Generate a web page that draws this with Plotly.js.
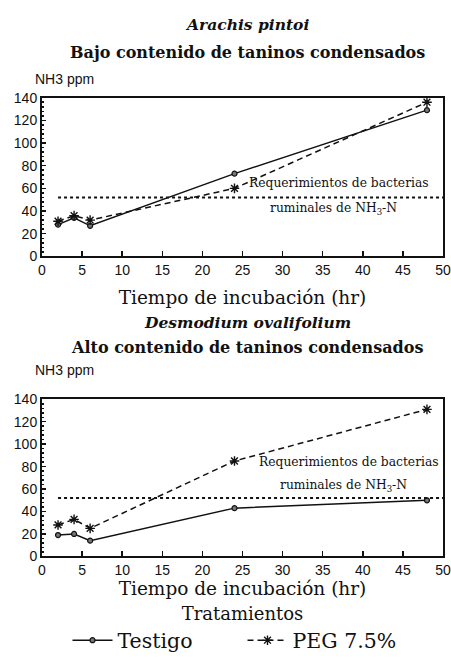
<!DOCTYPE html>
<html>
<head>
<meta charset="utf-8">
<script src="https://cdn.plot.ly/plotly-3.0.1.min.js"></script>
<style>html,body{margin:0;padding:0;background:#fff;}#chart{width:451px;height:661px;}</style>
</head>
<body>
<div id="chart"></div>
<script>
// Incubation times (hr)
const horas = [2, 4, 6, 24, 48];
// Arachis pintoi (low condensed tannins)
const arachisTestigo = [28, 34, 27, 73, 129];
const arachisPEG = [31, 36, 32, 60, 136];
// Desmodium ovalifolium (high condensed tannins)
const desmodiumTestigo = [19, 20, 14, 43, 50];
const desmodiumPEG = [28, 33, 25, 85, 131];
// Rumen bacteria requirement for NH3-N
const requerimientoX = [2, 50];
const requerimientoY = [52, 52];
const xTicks = [0, 5, 10, 15, 20, 25, 30, 35, 40, 45, 50];
const yTicks = [0, 20, 40, 60, 80, 100, 120, 140];

const serif = 'DejaVu Serif, Liberation Serif, serif';
const sans = 'Liberation Sans, Arial, sans-serif';

function testigo(x, y, xa, ya, show) {
  return {x: x, y: y, xaxis: xa, yaxis: ya, type: 'scatter', mode: 'lines+markers',
    name: 'Testigo', showlegend: show, legendgroup: 't',
    line: {color: '#111', width: 1.5},
    marker: {symbol: 'circle', size: 5, color: '#777', line: {color: '#111', width: 1.2}}};
}
function peg(x, y, xa, ya, show) {
  return {x: x, y: y, xaxis: xa, yaxis: ya, type: 'scatter', mode: 'lines+markers',
    name: 'PEG 7.5%', showlegend: show, legendgroup: 'p',
    line: {color: '#111', width: 1.5, dash: '6px,4px'},
    marker: {symbol: 'asterisk-open', size: 8, color: '#111', line: {color: '#111', width: 1.4}}};
}
function req(xa, ya) {
  return {x: requerimientoX, y: requerimientoY, xaxis: xa, yaxis: ya, type: 'scatter', mode: 'lines',
    showlegend: false, hoverinfo: 'skip', line: {color: '#111', width: 2, dash: 'dot'}};
}

const data = [
  testigo(horas, arachisTestigo, 'x', 'y', true),
  peg(horas, arachisPEG, 'x', 'y', true),
  req('x', 'y'),
  testigo(horas, desmodiumTestigo, 'x2', 'y2', false),
  peg(horas, desmodiumPEG, 'x2', 'y2', false),
  req('x2', 'y2')
];

function xax(anchor, standoff) {
  return {anchor: anchor, domain: [0, 1], range: [0, 50], tickvals: xTicks, ticktext: xTicks.map(String),
    ticks: 'inside', ticklen: 5, tickwidth: 1.5, tickcolor: '#111',
    showline: true, linecolor: '#111', linewidth: 2, mirror: true, showgrid: false, zeroline: false,
    automargin: false,
    tickfont: {family: sans, size: 14, color: '#111'},
    title: {text: 'Tiempo de incubación (hr)', font: {family: serif, size: 18.5, color: '#111'}, standoff: standoff}};
}
function yax(anchor, domain) {
  return {anchor: anchor, domain: domain, range: [0, 140], tickvals: yTicks,
    ticks: 'inside', ticklen: 4, tickwidth: 1.5, tickcolor: '#111',
    minor: {ticks: 'inside', ticklen: 2, tickcolor: '#111', dtick: 4},
    showline: true, linecolor: '#111', linewidth: 2, mirror: true, showgrid: false, zeroline: false,
    automargin: false,
    tickfont: {family: sans, size: 14, color: '#111'}};
}

const layout = {
  width: 451, height: 661,
  margin: {l: 42, r: 8, t: 0, b: 0},
  paper_bgcolor: '#fff', plot_bgcolor: '#fff',
  xaxis: xax('y', 14),
  yaxis: yax('x', [0.6115, 0.852]),
  xaxis2: xax('y2', 0),
  yaxis2: yax('x2', [0.157, 0.395]),
  showlegend: true,
  legend: {orientation: 'h', x: 0.5, xanchor: 'center', y: 0.095, yanchor: 'top',
    font: {family: serif, size: 20.5, color: '#111'},
    title: {text: 'Tratamientos', side: 'top center', font: {family: serif, size: 18, color: '#111'}},
    itemwidth: 40, entrywidth: 120, entrywidthmode: 'pixels', tracegroupgap: 0},
  annotations: [
    {xref: 'paper', yref: 'paper', x: 0.512, y: 1 - 25/661, text: '<b><i>Arachis pintoi</i></b>', showarrow: false,
      font: {family: serif, size: 15.5, color: '#111'}, xanchor: 'center', yanchor: 'middle'},
    {xref: 'paper', yref: 'paper', x: 0.512, y: 1 - 53/661, text: '<b>Bajo contenido de taninos condensados</b>', showarrow: false,
      font: {family: serif, size: 16, color: '#111'}, xanchor: 'center', yanchor: 'middle'},
    {xref: 'paper', yref: 'paper', x: -0.022, y: 1 - 79/661, text: 'NH3 ppm', showarrow: false,
      font: {family: sans, size: 14, color: '#111'}, xanchor: 'left', yanchor: 'middle'},
    {xref: 'paper', yref: 'paper', x: 0.512, y: 1 - 323/661, text: '<b><i>Desmodium ovalifolium</i></b>', showarrow: false,
      font: {family: serif, size: 15.5, color: '#111'}, xanchor: 'center', yanchor: 'middle'},
    {xref: 'paper', yref: 'paper', x: 0.512, y: 1 - 348/661, text: '<b>Alto contenido de taninos condensados</b>', showarrow: false,
      font: {family: serif, size: 16, color: '#111'}, xanchor: 'center', yanchor: 'middle'},
    {xref: 'paper', yref: 'paper', x: -0.022, y: 1 - 371/661, text: 'NH3 ppm', showarrow: false,
      font: {family: sans, size: 14, color: '#111'}, xanchor: 'left', yanchor: 'middle'},
    {xref: 'x', yref: 'y', x: 37, y: 65, text: 'Requerimientos de bacterias', showarrow: false,
      font: {family: serif, size: 12.3, color: '#111'}},
    {xref: 'x', yref: 'y', x: 36.3, y: 42, text: 'ruminales de NH<sub>3</sub>-N', showarrow: false,
      font: {family: serif, size: 12.3, color: '#111'}},
    {xref: 'x2', yref: 'y2', x: 38.3, y: 84, text: 'Requerimientos de bacterias', showarrow: false,
      font: {family: serif, size: 12.3, color: '#111'}},
    {xref: 'x2', yref: 'y2', x: 37.6, y: 63, text: 'ruminales de NH<sub>3</sub>-N', showarrow: false,
      font: {family: serif, size: 12.3, color: '#111'}}
  ]
};

Plotly.newPlot('chart', data, layout, {displayModeBar: false, staticPlot: true});
</script>
</body>
</html>
